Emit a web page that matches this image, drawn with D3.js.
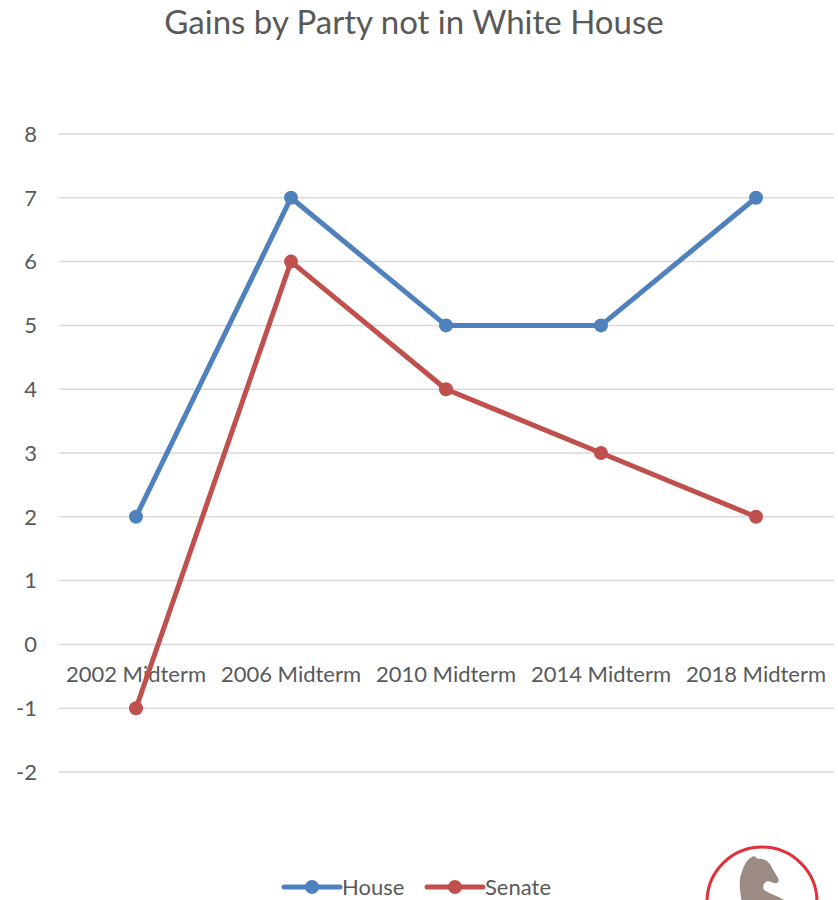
<!DOCTYPE html>
<html lang="en">
<head>
    <meta charset="UTF-8">
    <title>Gains by Party not in White House</title>
    <style>
        body { margin: 0; background: #fff; }
        svg { display: block; font-family: Lato, "Open Sans", sans-serif; }
    </style>
</head>
<body>
    <div id="chart"></div>
    <script src="https://d3js.org/d3.v7.min.js"></script>
    <script>
        const categories = ["2002 Midterm", "2006 Midterm", "2010 Midterm", "2014 Midterm", "2018 Midterm"];
        const house = [2, 7, 5, 5, 7];
        const senate = [-1, 6, 4, 3, 2];
        const yTicks = [-2, -1, 0, 1, 2, 3, 4, 5, 6, 7, 8];

        const series = [
            { name: "House", values: house, color: "#4f81bd" },
            { name: "Senate", values: senate, color: "#c0504d" }
        ];

        const width = 838, height = 900;
        const plotLeft = 59, plotRight = 834;

        const svg = d3.select("#chart").append("svg")
            .attr("width", width)
            .attr("height", height);

        // title
        svg.append("text")
            .attr("x", 414)
            .attr("y", 34)
            .attr("text-anchor", "middle")
            .attr("font-size", 33)
            .attr("fill", "#595959")
            .text("Gains by Party not in White House");

        const x = d3.scalePoint()
            .domain(categories)
            .range([136, 756]);

        const y = d3.scaleLinear()
            .domain([-2, 8])
            .range([772, 134]);

        // gridlines
        svg.append("g")
            .selectAll("line")
            .data(yTicks)
            .enter().append("line")
            .attr("x1", plotLeft)
            .attr("x2", plotRight)
            .attr("y1", d => y(d))
            .attr("y2", d => y(d))
            .attr("stroke", "#d9d9d9")
            .attr("stroke-width", 1.5);

        // y axis labels
        svg.append("g")
            .selectAll("text")
            .data(yTicks)
            .enter().append("text")
            .attr("x", 37)
            .attr("y", d => y(d))
            .attr("dy", "0.35em")
            .attr("text-anchor", "end")
            .attr("font-size", 22)
            .attr("fill", "#595959")
            .text(d => d);

        // category labels sit under the zero line
        svg.append("g")
            .selectAll("text")
            .data(categories)
            .enter().append("text")
            .attr("x", d => x(d))
            .attr("y", y(0) + 30)
            .attr("dy", "0.35em")
            .attr("text-anchor", "middle")
            .attr("font-size", 22)
            .attr("fill", "#595959")
            .text(d => d);

        const line = d3.line()
            .x((d, i) => x(categories[i]))
            .y(d => y(d));

        series.forEach(s => {
            const g = svg.append("g");
            g.append("path")
                .attr("d", line(s.values))
                .attr("fill", "none")
                .attr("stroke", s.color)
                .attr("stroke-width", 5)
                .attr("stroke-linejoin", "round");
            g.selectAll("circle")
                .data(s.values)
                .enter().append("circle")
                .attr("cx", (d, i) => x(categories[i]))
                .attr("cy", d => y(d))
                .attr("r", 7)
                .attr("fill", s.color);
        });

        // legend
        const legendX = [284, 427];
        const legend = svg.append("g")
            .selectAll("g")
            .data(series)
            .enter().append("g")
            .attr("transform", (d, i) => `translate(${legendX[i]},887)`);
        legend.append("line")
            .attr("x1", 0).attr("x2", 56)
            .attr("stroke", d => d.color)
            .attr("stroke-width", 5)
            .attr("stroke-linecap", "round");
        legend.append("circle")
            .attr("cx", 28)
            .attr("r", 7)
            .attr("fill", d => d.color);
        legend.append("text")
            .attr("x", 58)
            .attr("dy", "0.35em")
            .attr("font-size", 22)
            .attr("fill", "#595959")
            .text(d => d.name);

        // logo in the corner, mostly cut off
        const logo = svg.append("g").attr("transform", "translate(762,902)");
        logo.append("circle")
            .attr("r", 55)
            .attr("fill", "#fff")
            .attr("stroke", "#e0303a")
            .attr("stroke-width", 3);
        logo.append("path")
            .attr("d", "M-20,0 C-22,-10 -24,-22 -20,-30 C-18,-38 -14,-44 -8,-46 L-4,-43 C2,-44 8,-40 10,-34 L16,-24 C18,-21 16,-18 12,-19 L6,-21 C2,-20 0,-16 2,-12 C8,-8 16,-6 22,-2 L26,2 L-20,2 Z")
            .attr("fill", "#9b8b84");
    </script>
</body>
</html>
